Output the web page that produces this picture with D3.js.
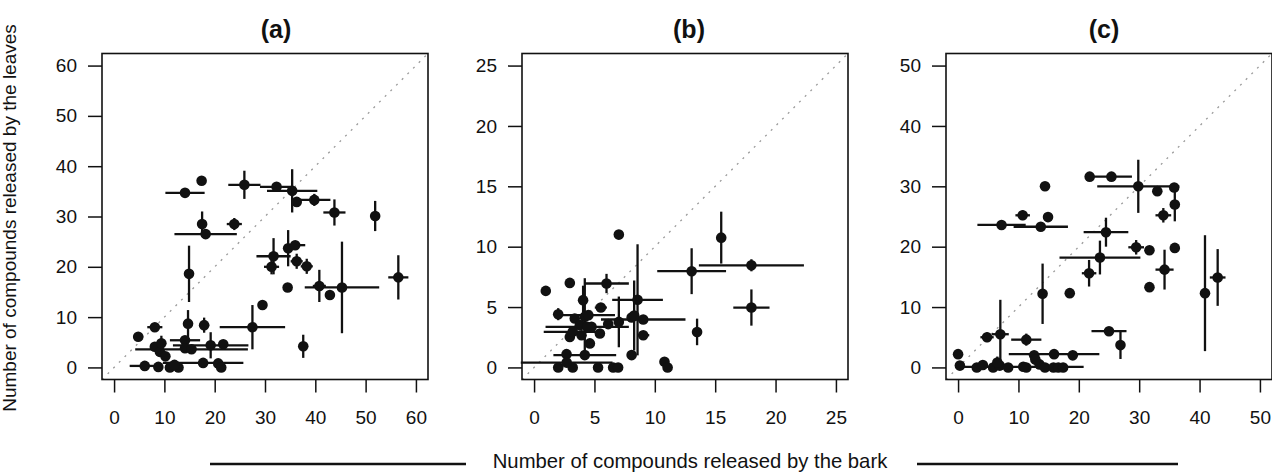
<!DOCTYPE html>
<html>
<head>
<meta charset="utf-8">
<script src="https://cdn.jsdelivr.net/npm/d3@7"></script>
<style>
  html, body { margin: 0; padding: 0; background: #fff; }
  svg text { font-family: "Liberation Sans", Arial, Helvetica, sans-serif; fill: #111; }
</style>
</head>
<body>
<svg id="chart" width="1272" height="475"></svg>
<script>
// Each row: [bark, leaves, bark half-range, leaves half-range]
const panelA = [
  [14.1, 34.7, 3.9, 0], [17.4, 37.1, 0, 0], [25.9, 36.3, 3.2, 2.8], [32.3, 35.9, 3.3, 0],
  [35.4, 35.1, 5.0, 4.3], [36.3, 32.9, 0, 0], [39.8, 33.3, 3.2, 1.2], [43.8, 30.8, 2.2, 2.6],
  [51.9, 30.1, 0, 3.0], [17.5, 28.5, 0, 2.5], [18.2, 26.5, 6.2, 0], [23.9, 28.5, 1.5, 1.2],
  [14.9, 18.6, 0, 5.6], [31.7, 22.1, 3.4, 3.6], [34.6, 23.7, 0, 3.6], [36.0, 24.3, 2.0, 0],
  [31.3, 20.0, 1.5, 1.5], [36.3, 21.1, 1.2, 1.5], [38.3, 20.1, 1.2, 1.5], [34.5, 15.9, 0, 0],
  [40.8, 16.2, 1.3, 3.2], [42.9, 14.4, 0, 0], [45.3, 15.9, 7.4, 9.1], [56.5, 17.9, 2.0, 4.4],
  [29.5, 12.4, 0, 0], [27.5, 8.0, 6.5, 4.4], [37.6, 4.2, 0, 2.3], [8.1, 8.0, 1.5, 0.8],
  [4.8, 6.1, 1.0, 0.8], [14.7, 8.7, 0, 2.7], [17.9, 8.4, 1.0, 1.5], [8.1, 4.1, 0, 0],
  [9.1, 3.1, 0, 0], [9.4, 4.8, 0, 1.5], [14.1, 5.4, 3.0, 0], [14.1, 3.8, 0, 0],
  [15.4, 3.6, 11.2, 0], [19.2, 4.4, 7.5, 2.6], [21.7, 4.6, 0, 0], [6.1, 0.3, 3.0, 0],
  [8.8, 0.1, 0, 0], [11.1, 0, 0, 0], [12.8, 0, 0, 0], [17.7, 0.9, 8.0, 0],
  [20.7, 0.8, 0, 0], [21.3, 0, 0, 0], [10.2, 2.2, 0, 0], [12.0, 0.5, 0, 0]
];
const panelB = [
  [7.02, 11.0, 0, 0], [15.5, 10.75, 0, 2.15], [13.05, 7.97, 2.85, 1.9], [18.0, 8.46, 4.35, 0.5],
  [18.0, 4.96, 1.5, 1.5], [13.5, 2.94, 0.4, 1.1], [8.57, 5.6, 2.1, 4.6], [6.0, 6.95, 1.85, 0.8],
  [0.97, 6.34, 0.3, 0.3], [2.96, 7.0, 0, 0], [4.06, 5.57, 0.3, 1.2], [5.53, 4.96, 0.5, 0.3],
  [2.0, 4.41, 0.4, 0.5], [3.37, 4.05, 0, 0], [4.2, 4.19, 0, 3.2], [3.79, 3.5, 0, 0],
  [4.76, 3.36, 0, 0], [2.96, 2.53, 0, 0], [3.93, 2.67, 0, 0], [4.62, 1.99, 0, 0],
  [5.45, 2.81, 0, 0], [6.14, 3.59, 0, 0], [7.02, 3.77, 0, 2.1], [8.08, 4.14, 0, 0],
  [9.04, 3.97, 3.5, 0], [9.04, 2.67, 0.5, 0], [8.29, 4.3, 0, 2.9], [8.08, 1.02, 0, 0],
  [4.2, 1.02, 2.6, 0], [2.69, 1.1, 0, 0], [2.0, 0, 0, 0], [3.2, 0, 0, 0],
  [2.7, 0.4, 3.8, 0], [5.3, 0, 0, 0], [6.55, 0, 0, 0], [6.96, 0, 0, 0],
  [10.8, 0.47, 0.3, 0.3], [11.06, 0, 0, 0], [4.4, 3.36, 3.45, 0], [4.5, 4.33, 2.2, 0],
  [3.2, 2.95, 2.4, 0]
];
const panelC = [
  [14.4, 30.0, 0, 0], [21.8, 31.6, 0, 0], [25.4, 31.6, 3.4, 0], [29.85, 30.0, 6.8, 4.4],
  [33.0, 29.2, 0, 0], [35.8, 29.8, 0, 0], [35.9, 27.0, 0, 2.8], [34.0, 25.2, 1.3, 1.2],
  [10.7, 25.2, 1.2, 0.8], [14.9, 24.9, 0, 0], [7.2, 23.6, 4.0, 0], [13.7, 23.3, 4.5, 0],
  [24.5, 22.4, 3.7, 2.4], [29.5, 19.9, 1.3, 1.2], [31.7, 19.4, 0, 0], [35.9, 19.8, 0, 0],
  [23.5, 18.2, 6.7, 2.8], [21.7, 15.6, 1.2, 2.2], [34.2, 16.2, 1.5, 3.3], [31.7, 13.3, 0, 0],
  [40.9, 12.3, 0, 9.6], [43.0, 14.9, 1.3, 4.7], [14.0, 12.2, 0, 5.0], [18.5, 12.3, 0, 0],
  [7.0, 5.5, 1.4, 5.7], [4.8, 5.0, 1.1, 0.8], [11.3, 4.6, 2.5, 1.0], [25.0, 6.0, 2.9, 0],
  [26.9, 3.7, 0.5, 2.3], [0.0, 2.2, 0, 0], [12.6, 2.0, 0, 0], [19.0, 2.0, 0, 0],
  [15.9, 2.2, 7.5, 0], [0.3, 0.3, 0, 0], [3.1, 0, 0, 0], [4.1, 0.4, 0, 0],
  [5.8, 0, 0, 0], [6.9, 0.3, 0, 0], [8.3, 0, 0, 0], [11.3, 0, 0, 0],
  [13.5, 0.5, 0, 0], [14.4, 0, 0, 0], [15.8, 0, 0, 0], [16.6, 0, 0, 0],
  [17.4, 0, 0, 0], [12.8, 1.3, 0, 0], [6.5, 0.8, 0, 1.0], [10.8, 0.1, 10.0, 0]
];

const titles = ["(a)", "(b)", "(c)"];
const ticksA = [0, 10, 20, 30, 40, 50, 60];
const ticksB = [0, 5, 10, 15, 20, 25];
const ticksC = [0, 10, 20, 30, 40, 50];
const xLabel = "Number of compounds released by the bark";
const yLabel = "Number of compounds released by the leaves";

const svg = d3.select("#chart");
svg.append("rect").attr("width", 1272).attr("height", 475).attr("fill", "#fff");

const panels = [
  { data: panelA, ticks: ticksA, max: 60, left: 102, titleX: 276 },
  { data: panelB, ticks: ticksB, max: 25, left: 522, titleX: 689 },
  { data: panelC, ticks: ticksC, max: 50, left: 946, titleX: 1104 }
];
const plotW = 326, plotTop = 53.5, plotBottom = 379.5;

panels.forEach((p, i) => {
  const pad = p.max * 0.04;
  const x = d3.scaleLinear().domain([-pad, p.max + pad]).range([p.left, p.left + plotW]);
  const y = d3.scaleLinear().domain([-pad, p.max + pad]).range([plotBottom, plotTop]);
  const g = svg.append("g");

  const clipId = "clip" + i;
  g.append("clipPath").attr("id", clipId)
    .append("rect").attr("x", p.left).attr("y", plotTop)
    .attr("width", plotW).attr("height", plotBottom - plotTop);

  // 1:1 reference line
  g.append("line")
    .attr("clip-path", `url(#${clipId})`)
    .attr("x1", x(-pad)).attr("y1", y(-pad))
    .attr("x2", x(p.max + pad)).attr("y2", y(p.max + pad))
    .attr("stroke", "#999").attr("stroke-width", 1.3)
    .attr("stroke-dasharray", "2,6");

  // error bars
  const bars = g.append("g").attr("stroke", "#111").attr("stroke-width", 2.3);
  p.data.filter(d => d[2] > 0).forEach(d => {
    bars.append("line")
      .attr("x1", x(d[0] - d[2])).attr("x2", x(d[0] + d[2]))
      .attr("y1", y(d[1])).attr("y2", y(d[1]));
  });
  p.data.filter(d => d[3] > 0).forEach(d => {
    bars.append("line")
      .attr("x1", x(d[0])).attr("x2", x(d[0]))
      .attr("y1", y(d[1] - d[3])).attr("y2", y(d[1] + d[3]));
  });

  // points
  g.append("g").selectAll("circle").data(p.data).join("circle")
    .attr("cx", d => x(d[0])).attr("cy", d => y(d[1]))
    .attr("r", 5.3).attr("fill", "#111");

  // frame
  g.append("rect")
    .attr("x", p.left).attr("y", plotTop).attr("width", plotW).attr("height", plotBottom - plotTop)
    .attr("fill", "none").attr("stroke", "#111").attr("stroke-width", 1.6);

  // axes
  const xa = g.append("g").attr("transform", `translate(0,${plotBottom})`)
    .call(d3.axisBottom(x).tickValues(p.ticks).tickSize(13).tickPadding(18));
  const ya = g.append("g").attr("transform", `translate(${p.left},0)`)
    .call(d3.axisLeft(y).tickValues(p.ticks).tickSize(14).tickPadding(11));
  [xa, ya].forEach(a => {
    a.select(".domain").remove();
    a.selectAll(".tick line").attr("stroke", "#111").attr("stroke-width", 1.5);
    a.selectAll(".tick text").attr("font-size", 19).attr("fill", "#111")
      .style("font-family", "\"Liberation Sans\", Arial, sans-serif");
  });

  // panel title
  g.append("text")
    .attr("x", p.titleX).attr("y", 38)
    .attr("text-anchor", "middle")
    .attr("font-size", 25).attr("font-weight", "bold")
    .text(titles[i]);
});

// shared axis titles
svg.append("text")
  .attr("transform", "translate(16,218) rotate(-90)")
  .attr("text-anchor", "middle").attr("font-size", 19)
  .text(yLabel);

svg.append("text")
  .attr("x", 690).attr("y", 468)
  .attr("text-anchor", "middle").attr("font-size", 20.3)
  .text(xLabel);

svg.append("line").attr("x1", 210).attr("x2", 466).attr("y1", 464).attr("y2", 464)
  .attr("stroke", "#111").attr("stroke-width", 2.4);
svg.append("line").attr("x1", 917).attr("x2", 1178).attr("y1", 464).attr("y2", 464)
  .attr("stroke", "#111").attr("stroke-width", 2.4);
</script>
</body>
</html>
